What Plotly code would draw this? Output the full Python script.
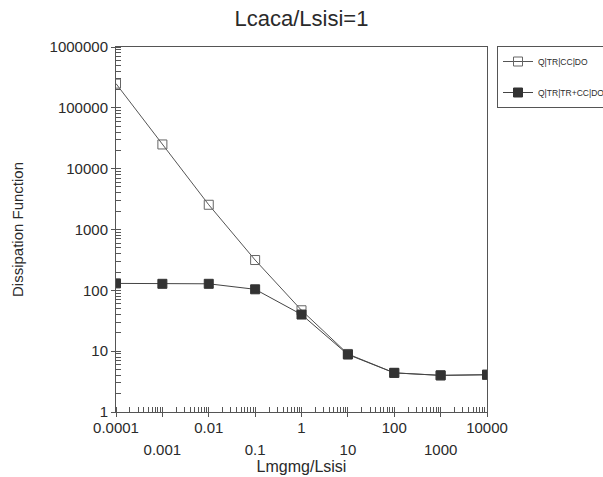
import plotly.graph_objects as go

# ---- data ----
x_vals = [0.0001, 0.001, 0.01, 0.1, 1, 10, 100, 1000, 10000]
open_series = [250000, 25000, 2550, 315, 47, 9, 4.4, 4.0, 4.1]   # Q|TR|CC|DO
filled_series = [130, 128, 128, 104, 40, 8.8, 4.4, 4.0, 4.1]     # Q|TR|TR+CC|DO
series_names = ["Q|TR|CC|DO", "Q|TR|TR+CC|DO"]

x_upper_vals = [0.0001, 0.001, 0.01, 0.1, 1, 10, 100, 1000, 10000]
x_upper_text = ["0.0001", "", "0.01", "", "1", "", "100", "", "10000"]
x_lower_vals = [0.001, 0.1, 10, 1000]
x_lower_text = ["0.001", "0.1", "10", "1000"]
y_tick_vals = [1, 10, 100, 1000, 10000, 100000, 1000000]
y_tick_text = ["1", "10", "100", "1000", "10000", "100000", "1000000"]

FONT = "Liberation Sans, Arial, sans-serif"
INK = "#2a2a2a"
LINE = "#555555"

fig = go.Figure()
fig.add_trace(go.Scatter(
    x=x_vals, y=open_series, name=series_names[0], mode="lines+markers",
    legendgroup="a",
    line=dict(color=LINE, width=1),
    marker=dict(symbol="square-open", size=9, color="#666666", line=dict(width=1)),
))
fig.add_trace(go.Scatter(
    x=x_vals, y=filled_series, name=series_names[1], mode="lines+markers",
    legendgroup="b",
    line=dict(color="#444444", width=1),
    marker=dict(symbol="square", size=9, color="#333333", line=dict(width=1, color="#333333")),
))
# invisible trace to attach the lower tick-label row
fig.add_trace(go.Scatter(x=x_vals, y=filled_series, xaxis="x2", mode="none",
                         showlegend=False, hoverinfo="skip"))

fig.update_layout(
    width=603, height=477,
    margin=dict(l=116, r=116, t=47, b=65, autoexpand=False),
    paper_bgcolor="white", plot_bgcolor="white",
    font=dict(family=FONT, color=INK, size=13),
    title=dict(text="Lcaca/Lsisi=1", x=0.5, xanchor="center", y=1 - 18 / 477,
               yanchor="middle", yref="container", font=dict(size=22, color=INK)),
    showlegend=True,
    legend=dict(xref="container", yref="container", x=497 / 603, y=1 - 46 / 477,
                xanchor="left", yanchor="top", traceorder="grouped", tracegroupgap=12,
                bordercolor="#555555", borderwidth=1, bgcolor="white",
                font=dict(size=8.5, color=INK), itemwidth=30),
    xaxis=dict(type="log", range=[-4, 4], tickmode="array", automargin=False,
               tickvals=x_upper_vals, ticktext=x_upper_text,
               ticks="outside", ticklen=4, tickcolor=LINE,
               showline=True, linecolor=LINE, linewidth=1, mirror=True,
               showgrid=False, zeroline=False, ticklabelstandoff=-2,
               tickfont=dict(size=15, color=INK),
               minor=dict(dtick="D1", ticks="inside", ticklen=5, tickcolor=LINE, showgrid=False)),
    xaxis2=dict(type="log", range=[-4, 4], overlaying="x", anchor="y", side="bottom",
                automargin=False,
                tickmode="array", tickvals=x_lower_vals, ticktext=x_lower_text,
                ticks="", showline=False, showgrid=False, zeroline=False,
                ticklabelstandoff=27, tickfont=dict(size=15, color=INK),
                title=dict(text="Lmgmg/Lsisi", standoff=3, font=dict(size=16, color=INK))),
    yaxis=dict(type="log", range=[0, 6], tickmode="array", automargin=False,
               tickvals=y_tick_vals, ticktext=y_tick_text,
               ticks="outside", ticklen=4, tickcolor=LINE,
               showline=True, linecolor=LINE, linewidth=1, mirror=True,
               showgrid=False, zeroline=False,
               tickfont=dict(size=15, color=INK),
               minor=dict(dtick="D1", ticks="inside", ticklen=5, tickcolor=LINE, showgrid=False),
               title=dict(text="Dissipation Function", standoff=22, font=dict(size=15, color=INK))),
)

fig.write_html("out.html", config={"displayModeBar": False},
               post_script="document.body.style.margin='0px';")
